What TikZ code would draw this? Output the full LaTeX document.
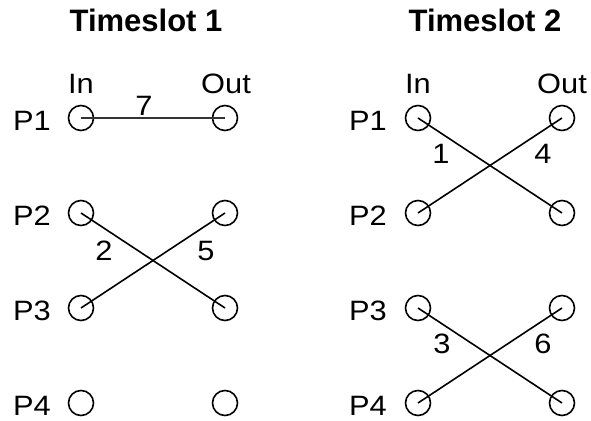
\documentclass[tikz,border=0pt]{standalone}
\usepackage{fontspec}
\setmainfont{Liberation Sans}
\newfontfamily\widesans[FakeStretch=1.1]{Liberation Sans}
\begin{document}
\begin{tikzpicture}[x=1pt,y=-1pt,
  port/.style={circle,draw,line width=1.6pt,minimum size=25pt,inner sep=0pt},
  txt/.style={font=\widesans\fontsize{28}{30}\selectfont,inner sep=0pt,anchor=base},
  title/.style={font=\fontsize{31}{34}\selectfont\bfseries,inner sep=0pt,anchor=base},
  link/.style={line width=1.6pt},
  thinlink/.style={line width=1.2pt,black!80}]
\useasboundingbox (0,0) rectangle (591,420);

% titles
\node[title] (t1) at (146,32) {Timeslot 1};
\node[title] (t2) at (485,32) {Timeslot 2};

% timeslot 1 ports
\node[port] (a1i) at (81,118) {};  \node[port] (a1o) at (225,118) {};
\node[port] (a2i) at (81,213) {};  \node[port] (a2o) at (225,213) {};
\node[port] (a3i) at (81,308) {};  \node[port] (a3o) at (225,308) {};
\node[port] (a4i) at (81,403) {};  \node[port] (a4o) at (225,403) {};

% timeslot 2 ports
\node[port] (b1i) at (418,118) {};  \node[port] (b1o) at (562,118) {};
\node[port] (b2i) at (418,213) {};  \node[port] (b2o) at (562,213) {};
\node[port] (b3i) at (418,308) {};  \node[port] (b3o) at (562,308) {};
\node[port] (b4i) at (418,403) {};  \node[port] (b4o) at (562,403) {};

% column headings
\node[txt] (ain) at (81,93) {In};
\node[txt] (aout) at (226,93) {Out};
\node[txt] (bin) at (418,93) {In};
\node[txt] (bout) at (562,93) {Out};

% port names
\node[txt] (ap1) at (32,130) {P1};
\node[txt] (ap2) at (32,225) {P2};
\node[txt] (ap3) at (32,320) {P3};
\node[txt] (ap4) at (32,415) {P4};
\node[txt] (bp1) at (368,130) {P1};
\node[txt] (bp2) at (368,225) {P2};
\node[txt] (bp3) at (368,320) {P3};
\node[txt] (bp4) at (368,415) {P4};

% connections, timeslot 1
\draw[thinlink] (a1i.center) -- (a1o.center);
\draw[link] (a2i.center) -- (a3o.center);
\draw[link] (a3i.center) -- (a2o.center);

% connections, timeslot 2
\draw[link] (b1i.center) -- (b2o.center);
\draw[link] (b2i.center) -- (b1o.center);
\draw[link] (b3i.center) -- (b4o.center);
\draw[link] (b4i.center) -- (b3o.center);

% connection numbers
\node[txt] (n7) at (144,115) {7};
\node[txt] (n2) at (104,260) {2};
\node[txt] (n5) at (206,260) {5};
\node[txt] (n1) at (441,163) {1};
\node[txt] (n4) at (543,163) {4};
\node[txt] (n3) at (442,353) {3};
\node[txt] (n6) at (543,353) {6};
\end{tikzpicture}
\end{document}
